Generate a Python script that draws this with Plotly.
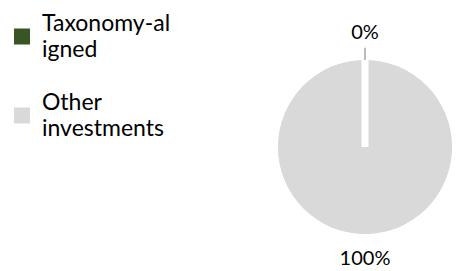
import math
import plotly.graph_objects as go

labels = ["Taxonomy-al<br>igned", "Other<br>investments"]
values = [0, 100]
percent_text = ["0%", "100%"]
colors = ["#375623", "#D9D9D9"]

# layout constants (pixels)
W, H = 463, 271
CX, CY, R = 365, 147, 87          # pie centre (from top-left) and radius
FONT = "Lato"
LEG_GLYPH = 23
LEG_BASE = 20
PCT_SIZE = 20

total = sum(values)
starts, centers, widths = [], [], []
acc = 0.0
for v in values:
    w = 360.0 * v / total
    starts.append(acc)
    widths.append(w)
    centers.append(acc + w / 2.0)
    acc += w


def styled(lbl):
    return "<br>".join(f"<span style='font-size:{LEG_GLYPH}px'>{p}</span>" for p in lbl.split("<br>"))


fig = go.Figure()
for i in range(len(values)):
    fig.add_trace(go.Barpolar(
        r=[1.0], theta=[centers[i]], width=[widths[i]],
        name=styled(labels[i]),
        marker=dict(color=colors[i], line=dict(color=colors[i], width=4)),
        legendgroup=f"g{i}",
        hoverinfo="skip",
    ))

# white slice borders (radial edges at each slice start)
for i in range(len(values)):
    if values[i] == 0:
        fig.add_trace(go.Scatterpolar(
            r=[0.0, 1.0], theta=[starts[i], starts[i]], mode="lines",
            line=dict(color="white", width=7), showlegend=False, hoverinfo="skip",
        ))

# labels and leader line in an overlaid cartesian frame (1 unit = pie radius)
lab_r = 1.30
lx = [lab_r * math.sin(math.radians(c)) for c in centers]
ly = [lab_r * math.cos(math.radians(c)) for c in centers]
for i in range(len(values)):
    if values[i] == 0:
        t = math.radians(centers[i])
        fig.add_trace(go.Scatter(
            x=[math.sin(t) * 1.0, math.sin(t) * 1.14], y=[math.cos(t) * 1.0, math.cos(t) * 1.14],
            mode="lines", line=dict(color="#A6A6A6", width=1.5),
            showlegend=False, hoverinfo="skip", cliponaxis=False,
        ))
fig.add_trace(go.Scatter(
    x=lx, y=ly, mode="text", text=percent_text,
    textfont=dict(family=FONT, size=PCT_SIZE, color="#000000"),
    showlegend=False, hoverinfo="skip", cliponaxis=False,
))

fig.update_layout(
    width=W, height=H,
    margin=dict(l=0, r=0, t=0, b=0, autoexpand=False),
    paper_bgcolor="white",
    plot_bgcolor="rgba(0,0,0,0)",
    font=dict(family=FONT, size=LEG_BASE, color="#000000"),
    polar=dict(
        domain=dict(x=[(CX - R) / W, (CX + R) / W], y=[(H - CY - R) / H, (H - CY + R) / H]),
        bgcolor="rgba(0,0,0,0)",
        radialaxis=dict(visible=False, range=[0, 1]),
        angularaxis=dict(visible=False, rotation=90, direction="clockwise"),
        bargap=0,
    ),
    xaxis=dict(visible=False, range=[-CX / R, (W - CX) / R], domain=[0, 1], fixedrange=True),
    yaxis=dict(visible=False, range=[-(H - CY) / R, CY / R], domain=[0, 1], fixedrange=True),
    legend=dict(x=0, y=1.0 - 4 / H, xanchor="left", yanchor="top",
                font=dict(family=FONT, size=LEG_BASE), tracegroupgap=24,
                traceorder="grouped", indentation=2),
)
fig.write_html("out.html", config=dict(displayModeBar=False, staticPlot=True),
               post_script="document.body.style.margin='0px';")
